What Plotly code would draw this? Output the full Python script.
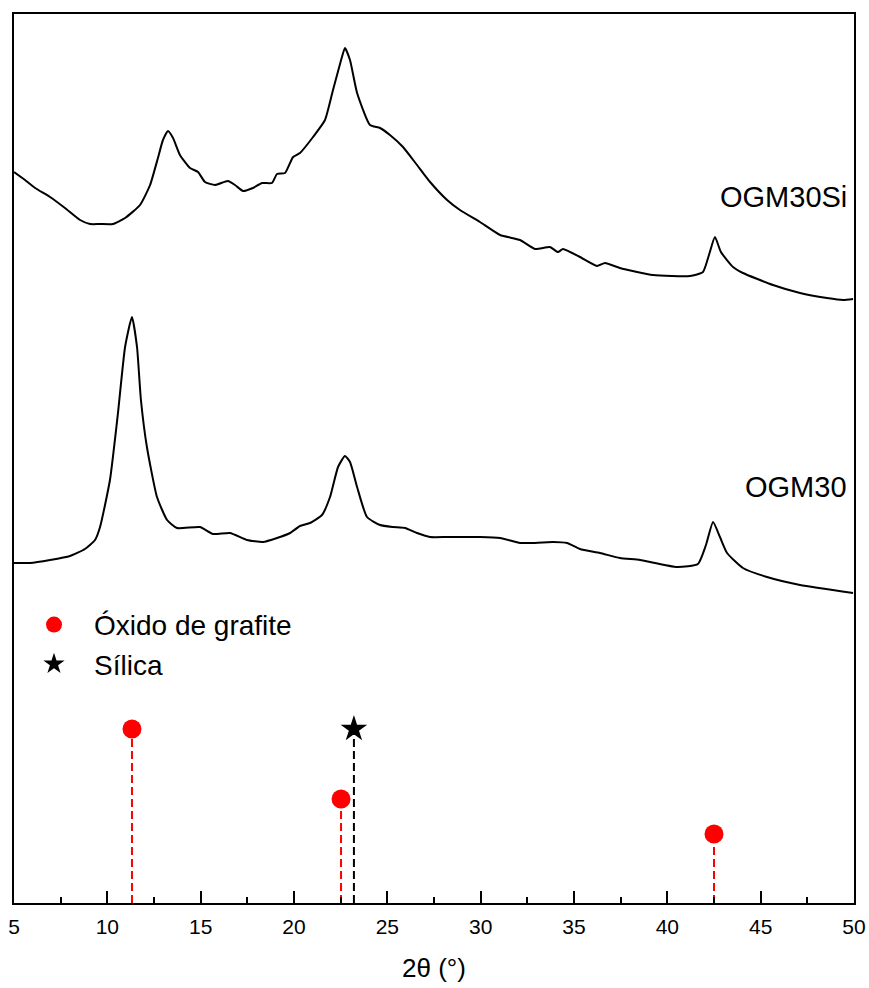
import plotly.graph_objects as go

# OGM30Si pattern (2θ, intensity a.u.)
si_2theta = [5.0, 5.59, 6.13, 6.93, 7.73, 8.54, 9.07, 9.61, 10.30, 10.95, 11.75, 12.29, 12.71, 12.98,
             13.25, 13.52, 13.89, 14.43, 14.86, 15.23, 15.77, 16.46, 16.84, 17.27, 17.80, 18.29, 18.82,
             19.09, 19.52, 19.95, 20.32, 21.02, 21.66, 22.09, 22.57, 22.73, 23.00, 23.38, 24.07, 24.61,
             25.14, 25.84, 26.59, 27.29, 28.20, 28.89, 29.96, 31.04, 32.11, 32.91, 33.71, 34.14, 34.41,
             35.32, 36.23, 36.66, 37.46, 39.23, 41.21, 41.91, 42.23, 42.55, 42.87, 43.52, 44.05, 45.66,
             47.11, 48.55, 49.41, 49.95]
si_int = [731, 723, 715, 706, 695, 683, 679, 679, 679, 685, 698, 718, 745, 763,
          772, 765, 748, 735, 731, 721, 718, 722, 718, 712, 715, 720, 720,
          729, 730, 746, 750, 766, 783, 813, 846, 855, 843, 810, 778, 775,
          768, 756, 738, 721, 703, 693, 681, 668, 663, 654, 656, 651, 654,
          646, 637, 640, 635, 628, 627, 631, 648, 666, 651, 636, 630, 618,
          610, 605, 603, 604]

# OGM30 pattern
og_2theta = [5.0, 5.86, 6.93, 8.00, 8.80, 9.34, 9.61, 10.14, 10.57, 10.95, 11.32, 11.59, 11.80, 12.12,
             12.66, 13.20, 13.73, 14.96, 15.66, 16.57, 17.48, 18.34, 19.09, 19.79, 20.32, 20.86, 21.50,
             21.93, 22.36, 22.73, 23.00, 23.38, 23.91, 24.61, 25.30, 25.95, 26.59, 27.29, 28.20, 29.05,
             29.96, 31.04, 32.11, 32.64, 33.87, 34.63, 35.32, 36.39, 37.46, 38.54, 40.52, 41.64, 42.07,
             42.45, 42.82, 43.20, 44.05, 45.34, 47.11, 49.95]
og_int = [340, 340, 343, 347, 354, 363, 376, 423, 490, 556, 586, 556, 503, 456,
          406, 383, 375, 376, 369, 370, 363, 361, 365, 370, 377, 380, 388,
          406, 436, 447, 441, 416, 386, 378, 376, 375, 370, 366, 366, 366,
          366, 365, 360, 360, 361, 360, 354, 350, 345, 343, 336, 339, 358,
          381, 366, 350, 335, 326, 318, 310]

# Reference peaks
go_peaks_2theta = [11.32, 22.52, 42.5]
go_peaks_int = [174, 104, 69]
si_peaks_2theta = [23.21]
si_peaks_int = [174]

sample_labels = ["OGM30Si", "OGM30"]
label_pos_2theta = [49.75, 49.75]
label_pos_int = [706, 416]

FONT = "Arial, 'Liberation Sans', sans-serif"

fig = go.Figure()

fig.add_trace(go.Scatter(x=si_2theta, y=si_int, mode="lines",
                         line=dict(color="black", width=2, shape="spline", smoothing=0.5),
                         showlegend=False))
fig.add_trace(go.Scatter(x=og_2theta, y=og_int, mode="lines",
                         line=dict(color="black", width=2, shape="spline", smoothing=0.5),
                         showlegend=False))

# dashed drop lines
for xv, yv in zip(go_peaks_2theta, go_peaks_int):
    fig.add_trace(go.Scatter(x=[xv, xv], y=[0, yv], mode="lines",
                             line=dict(color="red", width=2, dash="8px,4px"), showlegend=False))
for xv, yv in zip(si_peaks_2theta, si_peaks_int):
    fig.add_trace(go.Scatter(x=[xv, xv], y=[0, yv], mode="lines",
                             line=dict(color="black", width=2, dash="8px,4px"), showlegend=False))

fig.add_trace(go.Scatter(x=go_peaks_2theta, y=go_peaks_int, mode="markers",
                         marker=dict(color="red", size=19, symbol="circle"),
                         name="Óxido de grafite"))
fig.add_trace(go.Scatter(x=si_peaks_2theta, y=si_peaks_int, mode="markers",
                         marker=dict(color="black", size=20, symbol="star"),
                         name="Sílica"))

for t, xv, yv in zip(sample_labels, label_pos_2theta, label_pos_int):
    fig.add_annotation(x=xv, y=yv, text=t, showarrow=False, xanchor="right", yanchor="middle",
                       font=dict(family=FONT, size=29, color="black"))

fig.update_layout(
    width=869, height=988,
    margin=dict(l=14, r=15, t=14, b=85, autoexpand=False),
    paper_bgcolor="white", plot_bgcolor="white",
    font=dict(family=FONT, color="black"),
    legend=dict(x=0.0, y=0.341, xanchor="left", yanchor="top",
                font=dict(family=FONT, size=28, color="black"),
                bgcolor="rgba(0,0,0,0)", tracegroupgap=0, itemwidth=70),
    xaxis=dict(range=[5, 50], tickmode="linear", tick0=5, dtick=5,
               ticks="inside", ticklen=12, tickwidth=2, tickcolor="black",
               minor=dict(ticks="inside", ticklen=6, tickwidth=2, tickcolor="black", dtick=2.5, tick0=5),
               showline=True, linecolor="black", linewidth=2, mirror=True,
               showgrid=False, zeroline=False, automargin=False,
               tickfont=dict(family=FONT, size=21, color="black"), ticklabelstandoff=4,
               title=dict(text="2θ (°)", font=dict(family=FONT, size=26, color="black"), standoff=22)),
    yaxis=dict(range=[0, 889], showticklabels=False, ticks="",
               showline=True, linecolor="black", linewidth=2, mirror=True,
               showgrid=False, zeroline=False, automargin=False),
)

fig.write_html("out.html")
